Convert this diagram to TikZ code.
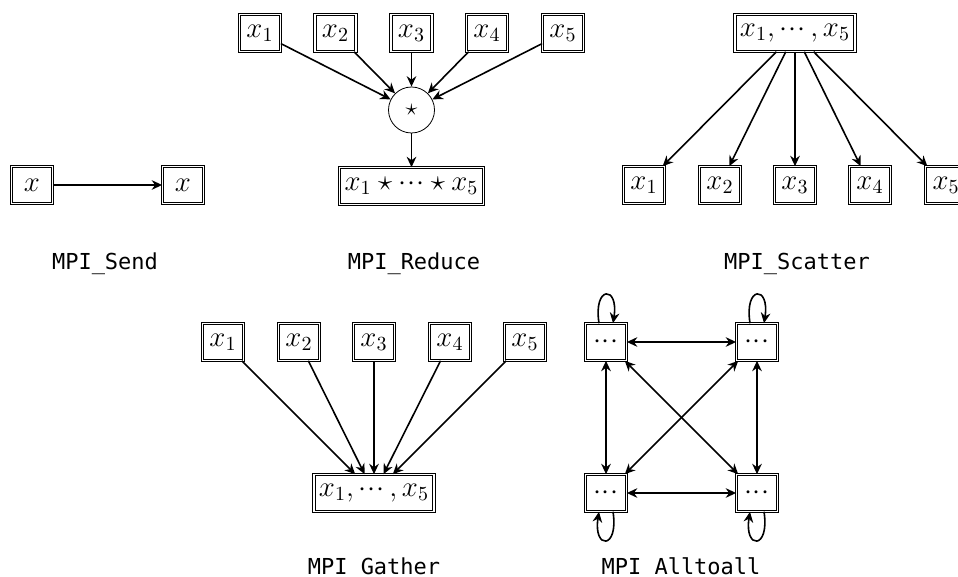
\documentclass[tikz,border=0pt]{standalone}
\usepackage{fontspec}
\setmonofont{DejaVu Sans Mono}
\usetikzlibrary{arrows.meta}
\newcommand\tightdots{\mathinner{{\cdot}\mkern0.6mu{\cdot}\mkern0.6mu{\cdot}}}
\begin{document}
\begin{tikzpicture}[x=0.5pt,y=-0.5pt,
  box/.style={draw, double, double distance=0.8pt, line width=0.4pt,
    minimum width=20.5pt, minimum height=18.4pt, inner xsep=2.5pt, inner ysep=2pt,
    font=\fontsize{14}{16}\selectfont},
  opnode/.style={draw, circle, line width=0.4pt, minimum size=23pt, inner sep=0pt,
    font=\fontsize{12}{14}\selectfont},
  tip/.tip={Stealth[length=5.2pt,width=4.8pt,inset=1.7pt]},
  arr/.style={-tip, line width=0.8pt},
  darr/.style={tip-tip, line width=0.8pt},
  lbl/.style={font=\ttfamily\fontsize{11}{13}\selectfont, anchor=base, inner sep=0pt}
]
\useasboundingbox (0,0) rectangle (958,577);

% MPI_Send
\node[box] (s1) at (32,185) {$x$};
\node[box] (s2) at (183,185) {$x$};
\draw[arr] (s1) -- (s2);
\node[lbl] (ls) at (105,270) {MPI\_Send};

% MPI_Reduce
\node[box] (r1) at (260,33) {$x_1$};
\node[box] (r2) at (335.5,33) {$x_2$};
\node[box] (r3) at (411.5,33) {$x_3$};
\node[box] (r4) at (487,33) {$x_4$};
\node[box] (r5) at (563,33) {$x_5$};
\node[opnode] (rs) at (411.5,110) {$\star$};
\node[box] (rr) at (411.5,186) {$x_1\star\tightdots\star x_5$};
\foreach \i in {1,...,5} \draw[arr] (r\i) -- (rs);
\draw[arr] (rs) -- (rr);
\node[lbl] (lr) at (414,270) {MPI\_Reduce};

% MPI_Scatter
\node[box] (ct) at (795,33) {$x_1,\tightdots,x_5$};
\node[box] (c1) at (644,185) {$x_1$};
\node[box] (c2) at (720,185) {$x_2$};
\node[box] (c3) at (795,185) {$x_3$};
\node[box] (c4) at (870,185) {$x_4$};
\node[box] (c5) at (946,185) {$x_5$};
\foreach \i in {1,...,5} \draw[arr] (ct) -- (c\i);
\node[lbl] (lc) at (797,270) {MPI\_Scatter};

% MPI_Gather
\node[box] (g1) at (223,342) {$x_1$};
\node[box] (g2) at (299,342) {$x_2$};
\node[box] (g3) at (374,342) {$x_3$};
\node[box] (g4) at (450,342) {$x_4$};
\node[box] (g5) at (525,342) {$x_5$};
\node[box] (gb) at (374,493) {$x_1,\tightdots,x_5$};
\foreach \i in {1,...,5} \draw[arr] (g\i) -- (gb);
\node[lbl] (lg) at (374,574) {MPI\_Gather};

% MPI_Alltoall
\node[box] (a1) at (606,342) {$\tightdots$};
\node[box] (a2) at (757,342) {$\tightdots$};
\node[box] (a3) at (606,493) {$\tightdots$};
\node[box] (a4) at (757,493) {$\tightdots$};
\draw[darr] (a1) -- (a2);
\draw[darr] (a3) -- (a4);
\draw[darr] (a1) -- (a3);
\draw[darr] (a2) -- (a4);
\draw[darr] (a1) -- (a4);
\draw[darr] (a2) -- (a3);
\draw[arr] ([xshift=-3.5pt]a1.north) .. controls +(-6,-38) and +(6,-38) .. ([xshift=3.5pt]a1.north);
\draw[arr] ([xshift=-3.5pt]a2.north) .. controls +(-6,-38) and +(6,-38) .. ([xshift=3.5pt]a2.north);
\draw[arr] ([xshift=3.5pt]a3.south) .. controls +(6,38) and +(-6,38) .. ([xshift=-3.5pt]a3.south);
\draw[arr] ([xshift=3.5pt]a4.south) .. controls +(6,38) and +(-6,38) .. ([xshift=-3.5pt]a4.south);
\node[lbl] (la) at (681,574) {MPI\_Alltoall};
\end{tikzpicture}
\end{document}
